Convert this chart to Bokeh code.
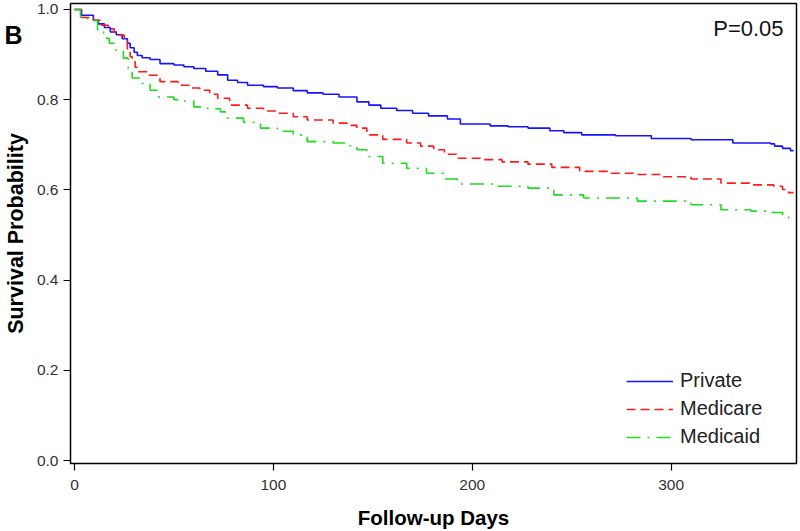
from bokeh.plotting import figure
from bokeh.models import (Range1d, Legend, LegendItem, Label, FixedTicker, NumeralTickFormatter,
                          LinearAxis)
from bokeh.embed import file_html
from bokeh.resources import INLINE

# ---- data ----
private_days = [0, 3.5, 9.5, 12, 15, 18, 21, 24, 26.6, 28, 30, 31.6, 34, 38, 43, 50, 55, 60, 66, 72, 77,
                82, 87, 95, 102, 110, 117, 125, 133, 142, 148, 154, 162, 170, 178, 187.5, 194, 209, 218,
                228, 239, 246, 255, 272, 290, 310, 331, 350, 352, 356, 360, 361.5]
private_surv = [1.0, 0.987, 0.976, 0.968, 0.96, 0.95, 0.944, 0.935, 0.925, 0.915, 0.905, 0.898, 0.893,
                0.889, 0.88, 0.877, 0.873, 0.869, 0.863, 0.855, 0.843, 0.838, 0.832, 0.829, 0.826, 0.82,
                0.815, 0.812, 0.806, 0.795, 0.788, 0.781, 0.776, 0.770, 0.764, 0.757, 0.746, 0.742, 0.74,
                0.737, 0.731, 0.727, 0.722, 0.72, 0.714, 0.711, 0.704, 0.702, 0.697, 0.692, 0.687, 0.687]

medicare_days = [0, 3.5, 9.5, 13, 17, 20, 23, 25, 26.6, 28, 29, 30.5, 31.6, 36.6, 43, 52, 58, 63, 68, 72,
                 78, 87, 95, 102, 110, 117, 130, 137, 142, 147, 155, 167, 174, 180.6, 186, 192.5, 205.6,
                 215, 228, 240, 254, 268, 283, 296, 310, 325, 340, 351.6, 356, 359, 361.5]
medicare_surv = [1.0, 0.982, 0.976, 0.965, 0.957, 0.95, 0.943, 0.93, 0.91, 0.895, 0.884, 0.872, 0.862,
                 0.854, 0.84, 0.832, 0.826, 0.821, 0.812, 0.803, 0.788, 0.781, 0.775, 0.77, 0.762, 0.755,
                 0.748, 0.743, 0.737, 0.722, 0.712, 0.704, 0.697, 0.689, 0.679, 0.67, 0.667, 0.662, 0.657,
                 0.65, 0.641, 0.637, 0.634, 0.629, 0.624, 0.615, 0.611, 0.608, 0.601, 0.594, 0.594]

medicaid_days = [0, 3, 8, 11.6, 14.6, 17.5, 20.6, 24.6, 27, 29, 33, 38, 41.6, 50, 55, 60, 67, 73.4, 77,
                 85, 93.5, 102, 110, 117, 130, 137, 142, 147, 155, 167, 177, 185.6, 192.5, 210.7, 228,
                 241, 256, 283, 310, 325, 340, 350, 356, 359, 361.5]
medicaid_surv = [1.0, 0.98, 0.975, 0.954, 0.936, 0.925, 0.91, 0.892, 0.865, 0.848, 0.836, 0.821, 0.806,
                 0.8, 0.797, 0.784, 0.78, 0.773, 0.759, 0.75, 0.737, 0.73, 0.722, 0.707, 0.704, 0.698,
                 0.689, 0.674, 0.659, 0.648, 0.637, 0.624, 0.613, 0.608, 0.604, 0.589, 0.582, 0.575,
                 0.567, 0.556, 0.553, 0.55, 0.543, 0.534, 0.534]

series_names = ["Private", "Medicare", "Medicaid"]
x_ticks = [0, 100, 200, 300]
y_ticks = [0.0, 0.2, 0.4, 0.6, 0.8, 1.0]
panel_letter = "B"
p_value_text = "P=0.05"

FONT = "Liberation Sans"

p = figure(width=800, height=531, output_backend="svg", toolbar_location=None,
           x_range=Range1d(-2.01, 363.0), y_range=Range1d(-0.0066, 1.0132),
           min_border_left=70, min_border_right=4, min_border_top=3, min_border_bottom=0)

p.xgrid.visible = False
p.ygrid.visible = False
p.outline_line_color = "black"
p.outline_line_width = 1.5
p.background_fill_color = "white"
p.border_fill_color = "white"

for ax in (p.xaxis[0], p.yaxis[0]):
    ax.axis_line_color = None
    ax.major_tick_line_color = "black"
    ax.major_tick_line_width = 1.2
    ax.major_tick_out = 7
    ax.major_tick_in = 0
    ax.minor_tick_line_color = None
    ax.major_label_text_font = FONT
    ax.major_label_text_font_size = "15.5px"
    ax.major_label_text_color = "#333333"
    ax.axis_label_text_font = FONT
    ax.axis_label_text_font_size = "20.5px"
    ax.axis_label_text_font_style = "bold"
    ax.axis_label_text_color = "black"

p.xaxis.ticker = FixedTicker(ticks=x_ticks)
p.yaxis.ticker = FixedTicker(ticks=y_ticks)
p.yaxis.formatter = NumeralTickFormatter(format="0.0")
p.xaxis.axis_label = "Follow-up Days"
p.xaxis.major_label_standoff = 9
p.xaxis.axis_label_standoff = 13
p.yaxis.major_label_standoff = 5

# outer left axis carrying the panel letter and the y-axis title
outer = LinearAxis(ticker=FixedTicker(ticks=[0.943]), major_label_overrides={0.943: panel_letter},
                   axis_line_color=None, major_tick_line_color=None, minor_tick_line_color=None,
                   major_tick_out=0, major_tick_in=0, major_label_standoff=11,
                   major_label_text_font=FONT, major_label_text_font_size="25px",
                   major_label_text_font_style="bold", major_label_text_color="black",
                   axis_label="Survival Probability", axis_label_standoff=-27,
                   axis_label_text_font=FONT, axis_label_text_font_size="21.5px",
                   axis_label_text_font_style="bold", axis_label_text_color="black")
p.add_layout(outer, "left")

r_priv = p.step(private_days, private_surv, mode="after", line_color="#1414ff", line_width=1.6)
r_medr = p.step(medicare_days, medicare_surv, mode="after", line_color="#ff1a1a", line_width=1.6,
                line_dash="9 5")
r_medd = p.step(medicaid_days, medicaid_surv, mode="after", line_color="#1edc1e", line_width=1.6,
                line_dash="14 7 2 7")

legend = Legend(items=[LegendItem(label=series_names[0], renderers=[r_priv]),
                       LegendItem(label=series_names[1], renderers=[r_medr]),
                       LegendItem(label=series_names[2], renderers=[r_medd])],
                location=(556, 15), padding=0, margin=0, spacing=5,
                glyph_width=47, glyph_height=22, label_height=22, label_standoff=7,
                label_text_font=FONT, label_text_font_size="20px", label_text_color="#222222",
                border_line_color=None, background_fill_alpha=0)
p.add_layout(legend, "center")

p.add_layout(Label(x=356.5, y=0.958, text=p_value_text, text_align="right", text_baseline="middle",
                   text_font=FONT, text_font_size="22px", text_color="#111111"))

open("out.html", "w").write(file_html(p, INLINE))
